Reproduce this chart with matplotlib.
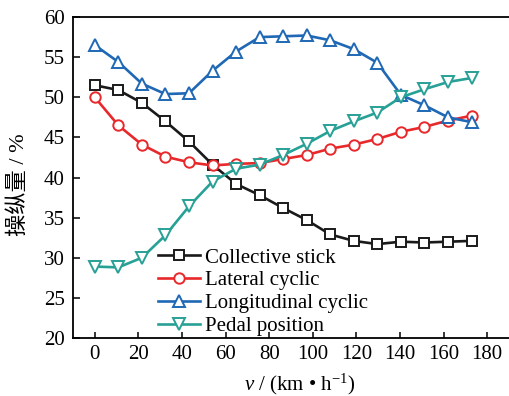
import matplotlib
matplotlib.use("Agg")
import matplotlib.pyplot as plt

plt.rcParams["font.family"] = ["Liberation Serif", "Noto Sans CJK SC"]
plt.rcParams["font.size"] = 15
plt.rcParams["mathtext.fontset"] = "custom"
plt.rcParams["mathtext.rm"] = "Liberation Serif"
plt.rcParams["mathtext.it"] = "Liberation Serif:italic"

# 速度 km/h
speed = [0, 10.8, 21.6, 32.4, 43.2, 54.0, 64.8, 75.6, 86.4, 97.2,
         108.0, 118.8, 129.6, 140.4, 151.2, 162.0, 172.8]

collective = [51.5, 50.9, 49.3, 47.0, 44.5, 41.6, 39.2, 37.8, 36.2, 34.7,
              32.9, 32.1, 31.7, 32.0, 31.9, 32.0, 32.1]
lateral = [50.0, 46.5, 44.1, 42.6, 41.9, 41.5, 41.7, 41.8, 42.3, 42.8,
           43.6, 44.1, 44.8, 45.7, 46.3, 47.1, 47.7]
longitudinal = [56.5, 54.4, 51.7, 50.4, 50.5, 53.3, 55.7, 57.5, 57.6, 57.7,
                57.1, 56.0, 54.3, 50.3, 49.0, 47.5, 46.9]
pedal = [28.9, 28.8, 30.0, 32.8, 36.4, 39.5, 41.1, 41.6, 42.8, 44.2,
         45.8, 47.0, 48.1, 50.0, 51.0, 51.9, 52.4]

labels = ["Collective stick", "Lateral cyclic", "Longitudinal cyclic", "Pedal position"]
colors = ["#1a1a1a", "#e8282b", "#1f68b5", "#27a096"]
markers = ["s", "o", "^", "v"]
sizes = [7.5, 7.5, 9, 9]

fig = plt.figure(figsize=(5.09, 3.96), dpi=100)
ax = fig.add_axes([0.1434, 0.1465, 0.8566, 0.8105])

for ys, lab, c, m, ms in zip([collective, lateral, longitudinal, pedal], labels, colors, markers, sizes):
    ax.plot(speed, ys, color=c, marker=m, markersize=ms, markerfacecolor="white",
            markeredgecolor=c, markeredgewidth=1.4, linewidth=1.9, label=lab)

ax.set_xlim(-10, 190)
ax.set_ylim(20, 60)
ax.set_xticks(range(0, 181, 20))
ax.set_yticks(range(20, 61, 5))
ax.spines["right"].set_visible(False)
for s in ["left", "bottom", "top"]:
    ax.spines[s].set_linewidth(1.3)
ax.tick_params(axis="y", direction="in", length=5, width=1.1, pad=6)
ax.tick_params(axis="x", direction="in", length=4.5, width=1.1, pad=5)

ax.set_ylabel("操纵量 / %", family=["Liberation Serif", "Noto Sans CJK SC"], fontsize=16)
ax.yaxis.set_label_coords(-0.1, 0.477)
ax.set_xlabel(r"$v$ / (km • h$^{-1}$)")
ax.xaxis.set_label_coords(0.52, -0.105)

ax.legend(loc="upper left", bbox_to_anchor=(0.195, 0.28), frameon=False,
          handlelength=2.0, handletextpad=0.25, labelspacing=0.15,
          borderaxespad=0, borderpad=0)

fig.savefig("out.png", dpi=100)
